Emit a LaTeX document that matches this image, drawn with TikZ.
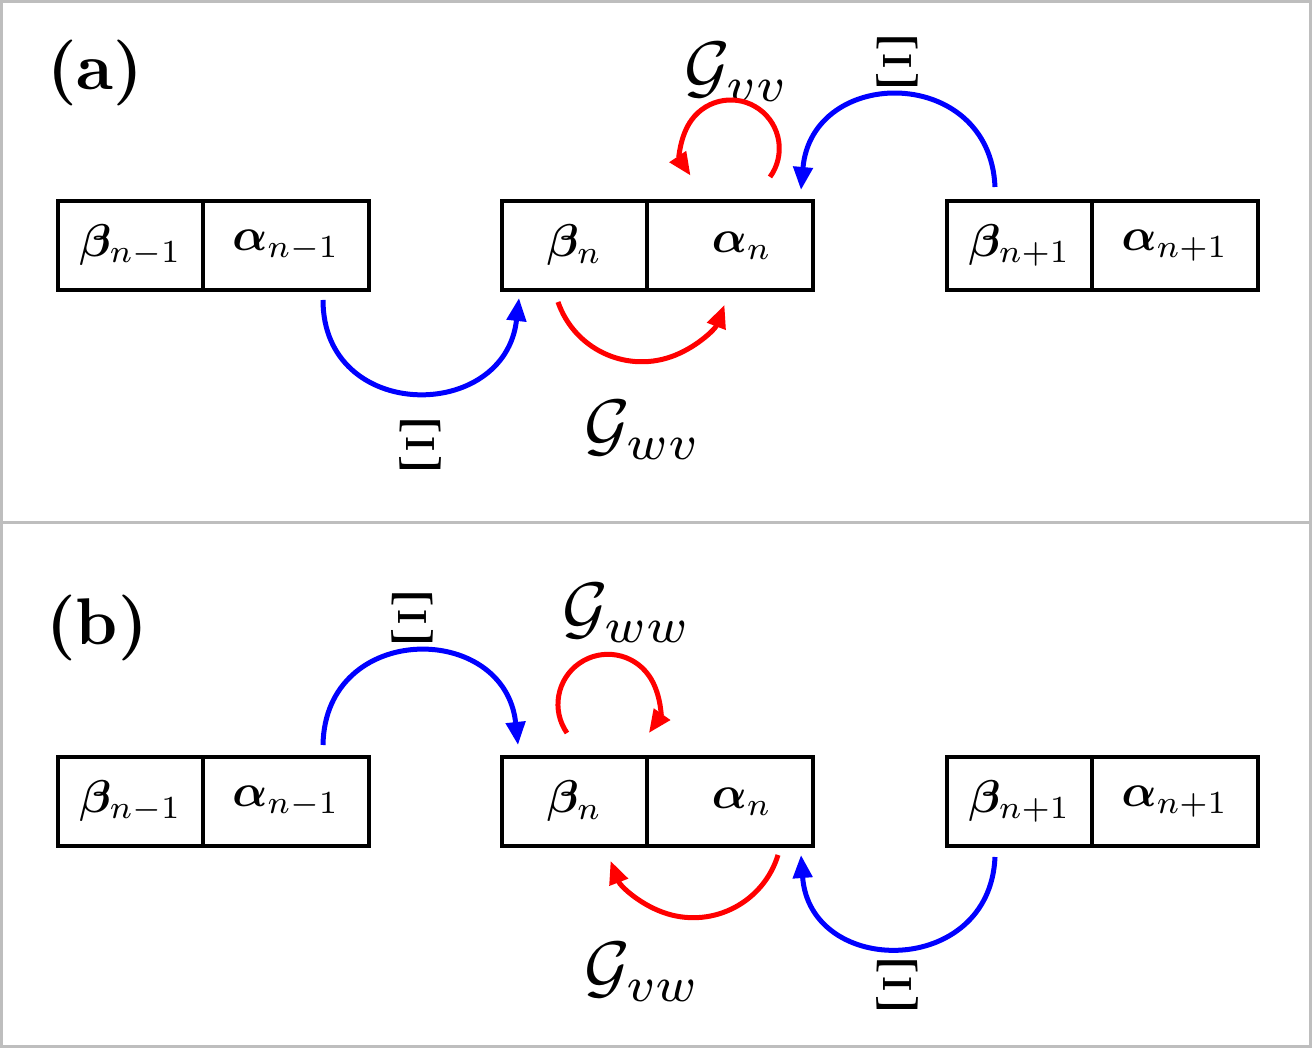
\documentclass[tikz,border=0pt]{standalone}
\usepackage{graphicx}
\usepackage{amsmath,bm}
\usetikzlibrary{arrows.meta}
\definecolor{framegray}{RGB}{190,190,190}
\newcommand{\bigtxt}[2]{\scalebox{#1}{#2}}
\begin{document}
\begin{tikzpicture}[x=1pt,y=1pt,
  cellA/.style={draw=black,line width=3.2pt,minimum height=89pt,minimum width=145pt,inner sep=0pt},
  cellB/.style={cellA,minimum width=166pt},
  glabel/.style={inner sep=0pt},
  xlabel/.style={inner sep=0pt},
  plabel/.style={inner sep=0pt},
  link/.style={line width=5pt,-{Triangle[length=23pt,width=19pt]}},
  bluelink/.style={link,draw=blue},
  redlink/.style={link,draw=red}]
\useasboundingbox (0,0) rectangle (1312,1048);
% frame
\draw[framegray,line width=3pt] (1.5,1.5) rectangle (1310.5,1046.5);
\draw[framegray,line width=3pt] (1.5,525) -- (1310.5,525);

% ---------------- panel (a)
\node[plabel] (pa) at (95,975) {\bigtxt{6.6}{\bfseries (a)}};
\node[cellA] (a1b) at (130.5,802.5) {\bigtxt{4.6}{$\bm\beta_{n-1}$}};
\node[cellB] (a1a) at (286,802.5) {\bigtxt{4.6}{$\bm\alpha_{n-1}$}};
\node[cellA] (a2b) at (574.5,802.5) {\bigtxt{4.6}{$\bm\beta_{n}$}};
\node[cellB] (a2a) at (730,802.5) {\hspace*{24pt}\bigtxt{4.6}{$\bm\alpha_{n}$}};
\node[cellA] (a3b) at (1019.5,802.5) {\bigtxt{4.6}{$\bm\beta_{n+1}$}};
\node[cellB] (a3a) at (1175,802.5) {\bigtxt{4.6}{$\bm\alpha_{n+1}$}};

\node[xlabel] (ax1) at (420,603) {\bigtxt{7.2}{$\Xi$}};
\node[glabel] (agwv) at (643,618) {\bigtxt{7}{$\mathcal{G}_{wv}$}};
\node[glabel] (agvv) at (737,976) {\bigtxt{7}{$\mathcal{G}_{vv}$}};
\node[xlabel] (ax2) at (897,986) {\bigtxt{7.2}{$\Xi$}};

\coordinate (a1s) at (323,748);
\coordinate (a1e) at (519,750);
\coordinate (a2s) at (558,746);
\coordinate (a3s) at (770,871);
\coordinate (a4s) at (995,861);
\coordinate (a4e) at (801,858);

\draw[bluelink] (a1s) .. controls (323,625) and (505,625) .. (a1e);
\draw[redlink] (a2s) arc[start angle=199,end angle=339,radius=88.6];
\draw[redlink] (a3s) arc[start angle=-36,end angle=214,radius=48.5];
\draw[bluelink] (a4s) .. controls (990,983) and (812,983) .. (a4e);

% ---------------- panel (b)
\node[plabel] (pb) at (97,420) {\bigtxt{6.6}{\bfseries (b)}};
\node[cellA] (b1b) at (130.5,246.5) {\bigtxt{4.6}{$\bm\beta_{n-1}$}};
\node[cellB] (b1a) at (286,246.5) {\bigtxt{4.6}{$\bm\alpha_{n-1}$}};
\node[cellA] (b2b) at (574.5,246.5) {\bigtxt{4.6}{$\bm\beta_{n}$}};
\node[cellB] (b2a) at (730,246.5) {\hspace*{24pt}\bigtxt{4.6}{$\bm\alpha_{n}$}};
\node[cellA] (b3b) at (1019.5,246.5) {\bigtxt{4.6}{$\bm\beta_{n+1}$}};
\node[cellB] (b3a) at (1175,246.5) {\bigtxt{4.6}{$\bm\alpha_{n+1}$}};

\node[xlabel] (bx1) at (412,430) {\bigtxt{7.2}{$\Xi$}};
\node[glabel] (bgww) at (627,435) {\bigtxt{7}{$\mathcal{G}_{ww}$}};
\node[glabel] (bgvw) at (643,76) {\bigtxt{7}{$\mathcal{G}_{vw}$}};
\node[xlabel] (bx2) at (897,63) {\bigtxt{7.2}{$\Xi$}};

\coordinate (b1s) at (323,303);
\coordinate (b1e) at (518,303);
\coordinate (b2s) at (567,315);
\coordinate (b3s) at (778,193);
\coordinate (b4s) at (995,191);
\coordinate (b4e) at (801,193);

\draw[bluelink] (b1s) .. controls (325,427) and (505,427) .. (b1e);
\draw[redlink] (b2s) arc[start angle=215,end angle=-35,radius=50];
\draw[redlink] (b3s) arc[start angle=-17,end angle=-159,radius=88.6];
\draw[bluelink] (b4s) .. controls (990,70) and (810,70) .. (b4e);
\end{tikzpicture}
\end{document}
